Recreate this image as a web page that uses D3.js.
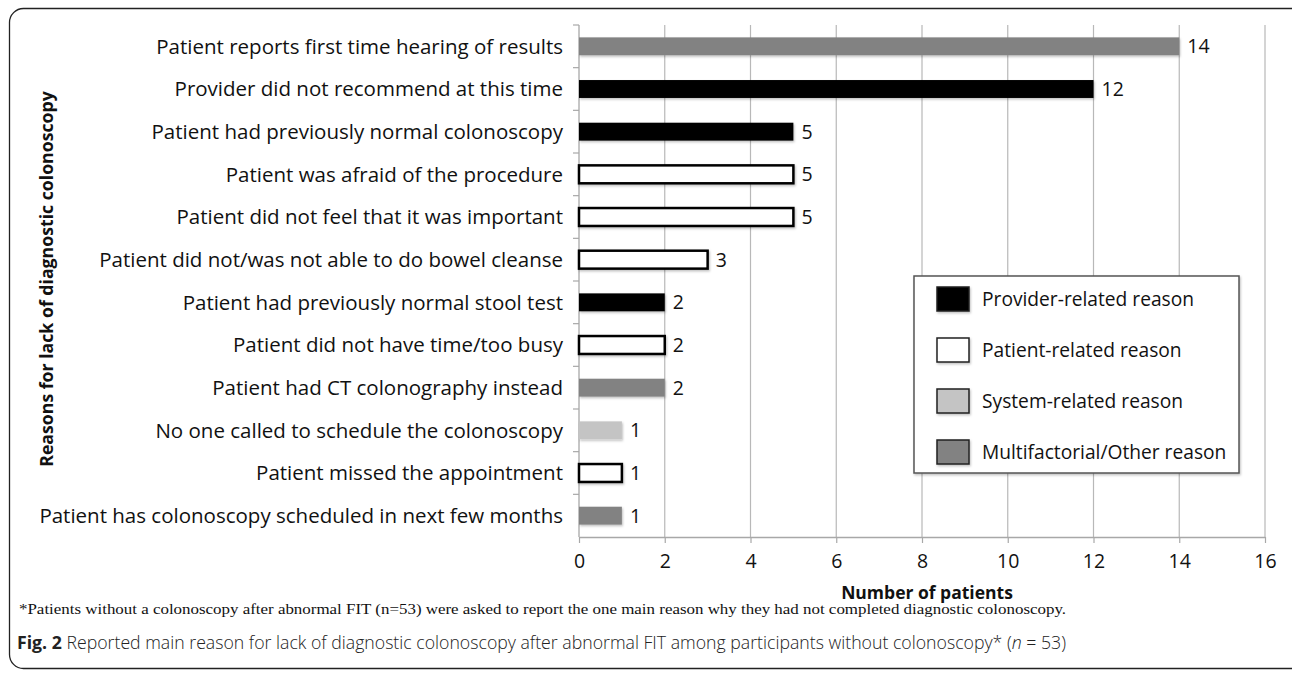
<!DOCTYPE html>
<html>
<head>
<meta charset="utf-8">
<script src="https://cdn.jsdelivr.net/npm/d3@7"></script>
<style>
  body { margin: 0; background: #fff; }
  svg { display: block; }
</style>
</head>
<body>
<svg id="chart" width="1292" height="679"></svg>
<script>
// reasons, top to bottom
const reasons = [
  "Patient reports first time hearing of results",
  "Provider did not recommend at this time",
  "Patient had previously normal colonoscopy",
  "Patient was afraid of the procedure",
  "Patient did not feel that it was important",
  "Patient did not/was not able to do bowel cleanse",
  "Patient had previously normal stool test",
  "Patient did not have time/too busy",
  "Patient had CT colonography instead",
  "No one called to schedule the colonoscopy",
  "Patient missed the appointment",
  "Patient has colonoscopy scheduled in next few months"
];
const counts = [14, 12, 5, 5, 5, 3, 2, 2, 2, 1, 1, 1];
const reasonGroup = ["other", "provider", "provider", "patient", "patient", "patient",
  "provider", "patient", "other", "system", "patient", "other"];

const groups = ["provider", "patient", "system", "other"];
const groupLabels = ["Provider-related reason", "Patient-related reason",
  "System-related reason", "Multifactorial/Other reason"];
const xTicks = [0, 2, 4, 6, 8, 10, 12, 14, 16];

const fills = { provider: "#000000", patient: "#ffffff", system: "#c4c4c4", other: "#828282" };

const svg = d3.select("#chart");
const margin = { top: 25, right: 27, bottom: 142, left: 579 };
const width = 1292 - margin.left - margin.right;
const height = 679 - margin.top - margin.bottom;

const font = "'Open Sans', sans-serif";

// outer frame
svg.append("rect")
  .attr("x", 9.5).attr("y", 8.5)
  .attr("width", 1292 - 9 + 20).attr("height", 668 - 8)
  .attr("rx", 14)
  .attr("fill", "none")
  .attr("stroke", "#222")
  .attr("stroke-width", 1.3);

const defs = svg.append("defs");
const sh = defs.append("filter").attr("id", "shadow")
  .attr("x", "-10%").attr("y", "-30%").attr("width", "130%").attr("height", "180%");
sh.append("feDropShadow").attr("dx", 1).attr("dy", 1.5).attr("stdDeviation", 1.2)
  .attr("flood-color", "#000").attr("flood-opacity", 0.25);

const g = svg.append("g").attr("transform", "translate(" + margin.left + "," + margin.top + ")");

const x = d3.scaleLinear().domain([0, 16]).range([0, width]);
const y = d3.scaleBand().domain(reasons).range([0, height]).paddingInner(0.58).paddingOuter(0.29);
const yb = d3.scaleBand().domain(reasons).range([0, height]);

// vertical gridlines
g.append("g").selectAll("line")
  .data(xTicks.slice(1))
  .enter().append("line")
  .attr("x1", (d) => x(d)).attr("x2", (d) => x(d))
  .attr("y1", 0).attr("y2", height)
  .attr("stroke", "#b8b8b8").attr("stroke-width", 1.2);

// bottom axis
const xAxis = g.append("g")
  .attr("transform", "translate(0," + height + ")")
  .call(d3.axisBottom(x).tickValues(xTicks).tickSize(6).tickSizeOuter(0).tickPadding(11));
xAxis.select(".domain").attr("stroke", "#a8a8a8").attr("stroke-width", 1.3);
xAxis.selectAll(".tick line").attr("stroke", "#a8a8a8").attr("stroke-width", 1.2);
xAxis.selectAll(".tick text")
  .attr("fill", "#111")
  .style("font-family", font)
  .style("font-size", "19.5px");

// left axis with ticks between categories
const yAxisG = g.append("g");
yAxisG.append("line")
  .attr("x1", 0).attr("x2", 0).attr("y1", 0).attr("y2", height)
  .attr("stroke", "#a8a8a8").attr("stroke-width", 1.3);
yAxisG.selectAll(".ytick")
  .data(reasons)
  .enter().append("line")
  .attr("class", "ytick")
  .attr("x1", -6).attr("x2", 0)
  .attr("y1", (d) => yb(d)).attr("y2", (d) => yb(d))
  .attr("stroke", "#a8a8a8").attr("stroke-width", 1.2);

yAxisG.selectAll(".ylab")
  .data(reasons)
  .enter().append("text")
  .attr("class", "ylab")
  .attr("x", -16)
  .attr("y", (d) => yb(d) + yb.bandwidth() / 2)
  .attr("dy", "0.35em")
  .attr("text-anchor", "end")
  .attr("fill", "#111")
  .style("font-family", font)
  .style("font-size", "20.5px")
  .text((d) => d);

// bars
g.selectAll(".bar")
  .data(reasons)
  .enter().append("rect")
  .attr("class", "bar")
  .attr("x", x(0))
  .attr("y", (d) => y(d))
  .attr("width", (d, i) => x(counts[i]) - x(0))
  .attr("height", y.bandwidth())
  .attr("fill", (d, i) => fills[reasonGroup[i]])
  .attr("stroke", (d, i) => reasonGroup[i] === "patient" ? "#000" : "none")
  .attr("stroke-width", 2.5)
  .attr("filter", "url(#shadow)");

// value labels
g.selectAll(".val")
  .data(reasons)
  .enter().append("text")
  .attr("class", "val")
  .attr("x", (d, i) => x(counts[i]) + 8)
  .attr("y", (d) => y(d) + y.bandwidth() / 2)
  .attr("dy", "0.36em")
  .attr("fill", "#111")
  .style("font-family", font)
  .style("font-size", "19.5px")
  .text((d, i) => counts[i]);

// axis titles
svg.append("text")
  .attr("x", margin.left + width / 2 + 5)
  .attr("y", 599)
  .attr("text-anchor", "middle")
  .attr("fill", "#111")
  .style("font-family", font)
  .style("font-size", "17.5px")
  .style("font-weight", "bold")
  .text("Number of patients");

svg.append("text")
  .attr("transform", "translate(53," + (margin.top + height / 2 - 2) + ") rotate(-90)")
  .attr("text-anchor", "middle")
  .attr("fill", "#111")
  .style("font-family", font)
  .style("font-size", "17.7px")
  .style("font-weight", "bold")
  .text("Reasons for lack of diagnostic colonoscopy");

// legend
const legend = svg.append("g").attr("transform", "translate(914,276)");
legend.append("rect")
  .attr("width", 325).attr("height", 197)
  .attr("fill", "#fff")
  .attr("stroke", "#555")
  .attr("stroke-width", 1.5)
  .attr("filter", "url(#shadow)");
const items = legend.selectAll(".item")
  .data(groups)
  .enter().append("g")
  .attr("class", "item")
  .attr("transform", (d, i) => "translate(23," + (11 + i * 51) + ")");
items.append("rect")
  .attr("width", 32).attr("height", 24)
  .attr("fill", (d) => fills[d])
  .attr("stroke", "#222")
  .attr("stroke-width", 1.5)
  .attr("filter", "url(#shadow)");
items.append("text")
  .attr("x", 45).attr("y", 12)
  .attr("dy", "0.35em")
  .attr("fill", "#111")
  .style("font-family", font)
  .style("font-size", "19.2px")
  .text((d, i) => groupLabels[i]);

// footnote and caption
svg.append("text")
  .attr("x", 19).attr("y", 614)
  .attr("fill", "#111")
  .attr("textLength", 1047)
  .attr("lengthAdjust", "spacingAndGlyphs")
  .style("font-family", "'Liberation Serif', serif")
  .style("font-size", "14.5px")
  .text("*Patients without a colonoscopy after abnormal FIT (n=53) were asked to report the one main reason why they had not completed diagnostic colonoscopy.");

const cap = svg.append("text")
  .attr("x", 17).attr("y", 649)
  .attr("fill", "#222")
  .style("font-family", "'Open Sans', sans-serif")
  .style("font-size", "17.7px");
cap.append("tspan").style("font-weight", "bold").text("Fig. 2");
cap.append("tspan").style("font-weight", "300")
  .text(" Reported main reason for lack of diagnostic colonoscopy after abnormal FIT among participants without colonoscopy* (");
cap.append("tspan").style("font-weight", "300").style("font-style", "italic").text("n");
cap.append("tspan").style("font-weight", "300").text(" = 53)");
</script>
</body>
</html>
